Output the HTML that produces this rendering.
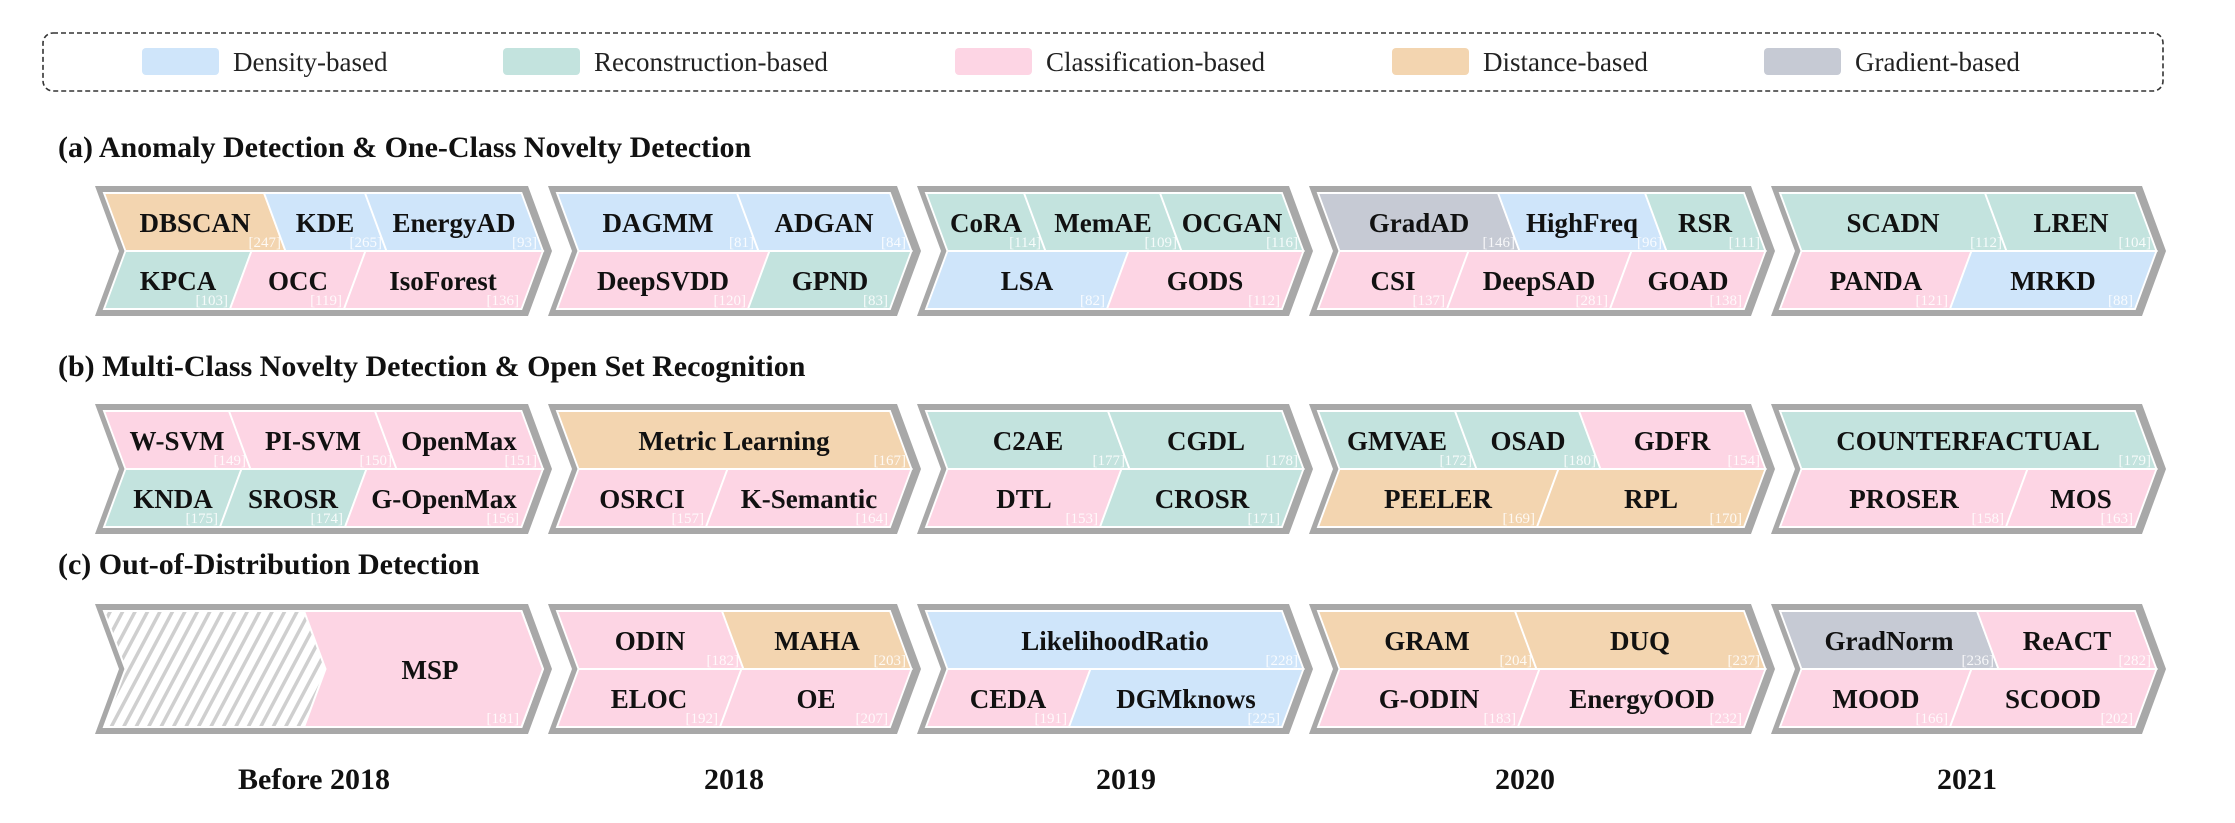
<!DOCTYPE html>
<html><head><meta charset="utf-8"><style>
html,body{margin:0;padding:0;background:#fff;}
svg{display:block;}
.l{font-family:"Liberation Serif",serif;font-weight:bold;font-size:27px;fill:#111;text-anchor:middle;}
.r{font-family:"Liberation Serif",serif;font-size:15px;fill:#fff;fill-opacity:.85;text-anchor:end;}
.t{font-family:"Liberation Serif",serif;font-weight:bold;font-size:30px;fill:#111;}
.y{font-family:"Liberation Serif",serif;font-weight:bold;font-size:30px;fill:#111;text-anchor:middle;}
.g{font-family:"Liberation Serif",serif;font-size:27px;fill:#222;}
.c rect{stroke:#fff;stroke-width:2;}
.B{fill:#cfe5fa}.G{fill:#c3e3de}.P{fill:#fdd5e4}.O{fill:#f3d5b0}.Y{fill:#c6cad4}
.o{fill:#a8a8a8}
</style></head><body>
<svg width="2235" height="823" viewBox="0 0 2235 823" xmlns="http://www.w3.org/2000/svg">
<defs>
<pattern id="h" patternUnits="userSpaceOnUse" width="11" height="11" patternTransform="rotate(28)">
<rect width="11" height="11" fill="#fff"/><rect x="0" y="0" width="3.5" height="11" fill="#cfcfcf"/>
</pattern>
</defs>
<!-- legend -->
<rect x="43" y="33" width="2120" height="58" rx="10" fill="none" stroke="#333" stroke-width="1.6" stroke-dasharray="5,3"/>
<rect x="142" y="48" width="77" height="27" rx="4" class="B"/><text x="233" y="71" class="g">Density-based</text>
<rect x="503" y="48" width="77" height="27" rx="4" class="G"/><text x="594" y="71" class="g">Reconstruction-based</text>
<rect x="955" y="48" width="77" height="27" rx="4" class="P"/><text x="1046" y="71" class="g">Classification-based</text>
<rect x="1392" y="48" width="77" height="27" rx="4" class="O"/><text x="1483" y="71" class="g">Distance-based</text>
<rect x="1764" y="48" width="77" height="27" rx="4" class="Y"/><text x="1855" y="71" class="g">Gradient-based</text>

<text x="58" y="157" class="t">(a) Anomaly Detection &amp; One-Class Novelty Detection</text>
<text x="58" y="376" class="t">(b) Multi-Class Novelty Detection &amp; Open Set Recognition</text>
<text x="58" y="574" class="t">(c) Out-of-Distribution Detection</text>

<!-- ROW A outer -->
<polygon class="o" points="95,186 528,186 552,251 528,316 95,316 119,251"/>
<polygon class="o" points="548,186 897,186 921,251 897,316 548,316 572,251"/>
<polygon class="o" points="917,186 1289,186 1313,251 1289,316 917,316 941,251"/>
<polygon class="o" points="1309,186 1751,186 1775,251 1751,316 1309,316 1333,251"/>
<polygon class="o" points="1771,186 2142,186 2166,251 2142,316 1771,316 1795,251"/>
<g class="c" transform="translate(0,193) skewX(20.3)">
<rect class="O" x="104" y="0" width="160" height="58"/><rect class="B" x="264" y="0" width="101" height="58"/><rect class="B" x="365" y="0" width="156.5" height="58"/>
<rect class="B" x="557" y="0" width="180" height="58"/><rect class="B" x="737" y="0" width="153" height="58"/>
<rect class="G" x="926" y="0" width="98" height="58"/><rect class="G" x="1024" y="0" width="136" height="58"/><rect class="G" x="1160" y="0" width="122" height="58"/>
<rect class="Y" x="1318" y="0" width="180" height="58"/><rect class="B" x="1498" y="0" width="147" height="58"/><rect class="G" x="1645" y="0" width="99" height="58"/>
<rect class="G" x="1780" y="0" width="205" height="58"/><rect class="G" x="1985" y="0" width="150" height="58"/>
</g>
<g class="c" transform="translate(0,309) skewX(-20.3)">
<rect class="G" x="104" y="-58" width="126" height="58"/><rect class="P" x="230" y="-58" width="114" height="58"/><rect class="P" x="344" y="-58" width="177.5" height="58"/>
<rect class="P" x="557" y="-58" width="191" height="58"/><rect class="G" x="748" y="-58" width="142" height="58"/>
<rect class="B" x="926" y="-58" width="181" height="58"/><rect class="P" x="1107" y="-58" width="175" height="58"/>
<rect class="P" x="1318" y="-58" width="129" height="58"/><rect class="P" x="1447" y="-58" width="163" height="58"/><rect class="P" x="1610" y="-58" width="134" height="58"/>
<rect class="P" x="1780" y="-58" width="170" height="58"/><rect class="B" x="1950" y="-58" width="185" height="58"/>
</g>
<text class="l" x="195" y="232">DBSCAN</text><text class="l" x="325" y="232">KDE</text><text class="l" x="454" y="232">EnergyAD</text>
<text class="r" x="281" y="247">[247]</text><text class="r" x="382" y="247">[265]</text><text class="r" x="537" y="247">[93]</text>
<text class="l" x="178" y="290">KPCA</text><text class="l" x="298" y="290">OCC</text><text class="l" x="443" y="290">IsoForest</text>
<text class="r" x="228" y="305">[103]</text><text class="r" x="342" y="305">[119]</text><text class="r" x="519" y="305">[136]</text>
<text class="l" x="658" y="232">DAGMM</text><text class="l" x="824" y="232">ADGAN</text>
<text class="r" x="754" y="247">[81]</text><text class="r" x="906" y="247">[84]</text>
<text class="l" x="663" y="290">DeepSVDD</text><text class="l" x="830" y="290">GPND</text>
<text class="r" x="746" y="305">[120]</text><text class="r" x="888" y="305">[83]</text>
<text class="l" x="986" y="232">CoRA</text><text class="l" x="1103" y="232">MemAE</text><text class="l" x="1232" y="232">OCGAN</text>
<text class="r" x="1041" y="247">[114]</text><text class="r" x="1177" y="247">[109]</text><text class="r" x="1298" y="247">[116]</text>
<text class="l" x="1027" y="290">LSA</text><text class="l" x="1205" y="290">GODS</text>
<text class="r" x="1105" y="305">[82]</text><text class="r" x="1280" y="305">[112]</text>
<text class="l" x="1419" y="232">GradAD</text><text class="l" x="1582" y="232">HighFreq</text><text class="l" x="1705" y="232">RSR</text>
<text class="r" x="1515" y="247">[146]</text><text class="r" x="1662" y="247">[96]</text><text class="r" x="1760" y="247">[111]</text>
<text class="l" x="1393" y="290">CSI</text><text class="l" x="1539" y="290">DeepSAD</text><text class="l" x="1688" y="290">GOAD</text>
<text class="r" x="1445" y="305">[137]</text><text class="r" x="1608" y="305">[281]</text><text class="r" x="1742" y="305">[138]</text>
<text class="l" x="1893" y="232">SCADN</text><text class="l" x="2071" y="232">LREN</text>
<text class="r" x="2002" y="247">[112]</text><text class="r" x="2151" y="247">[104]</text>
<text class="l" x="1876" y="290">PANDA</text><text class="l" x="2053" y="290">MRKD</text>
<text class="r" x="1948" y="305">[121]</text><text class="r" x="2133" y="305">[88]</text>

<!-- ROW B -->
<polygon class="o" points="95,404 528,404 552,469 528,534 95,534 119,469"/>
<polygon class="o" points="548,404 897,404 921,469 897,534 548,534 572,469"/>
<polygon class="o" points="917,404 1289,404 1313,469 1289,534 917,534 941,469"/>
<polygon class="o" points="1309,404 1751,404 1775,469 1751,534 1309,534 1333,469"/>
<polygon class="o" points="1771,404 2142,404 2166,469 2142,534 1771,534 1795,469"/>
<g class="c" transform="translate(0,411) skewX(20.3)">
<rect class="P" x="104" y="0" width="125" height="58"/><rect class="P" x="229" y="0" width="146" height="58"/><rect class="P" x="375" y="0" width="146.5" height="58"/>
<rect class="O" x="557" y="0" width="333" height="58"/>
<rect class="G" x="926" y="0" width="182" height="58"/><rect class="G" x="1108" y="0" width="174" height="58"/>
<rect class="G" x="1318" y="0" width="137" height="58"/><rect class="G" x="1455" y="0" width="124" height="58"/><rect class="P" x="1579" y="0" width="165" height="58"/>
<rect class="G" x="1780" y="0" width="355" height="58"/>
</g>
<g class="c" transform="translate(0,527) skewX(-20.3)">
<rect class="G" x="104" y="-58" width="116" height="58"/><rect class="G" x="220" y="-58" width="125" height="58"/><rect class="P" x="345" y="-58" width="176.5" height="58"/>
<rect class="P" x="557" y="-58" width="149" height="58"/><rect class="P" x="706" y="-58" width="184" height="58"/>
<rect class="P" x="926" y="-58" width="174" height="58"/><rect class="G" x="1100" y="-58" width="182" height="58"/>
<rect class="O" x="1318" y="-58" width="219" height="58"/><rect class="O" x="1537" y="-58" width="207" height="58"/>
<rect class="P" x="1780" y="-58" width="226" height="58"/><rect class="P" x="2006" y="-58" width="129" height="58"/>
</g>
<text class="l" x="177" y="450">W-SVM</text><text class="l" x="313" y="450">PI-SVM</text><text class="l" x="459" y="450">OpenMax</text>
<text class="r" x="246" y="465">[149]</text><text class="r" x="392" y="465">[150]</text><text class="r" x="537" y="465">[151]</text>
<text class="l" x="173" y="508">KNDA</text><text class="l" x="293" y="508">SROSR</text><text class="l" x="444" y="508">G-OpenMax</text>
<text class="r" x="218" y="523">[175]</text><text class="r" x="343" y="523">[174]</text><text class="r" x="519" y="523">[156]</text>
<text class="l" x="734" y="450">Metric Learning</text><text class="r" x="906" y="465">[167]</text>
<text class="l" x="642" y="508">OSRCI</text><text class="l" x="809" y="508">K-Semantic</text>
<text class="r" x="704" y="523">[157]</text><text class="r" x="888" y="523">[164]</text>
<text class="l" x="1028" y="450">C2AE</text><text class="l" x="1206" y="450">CGDL</text>
<text class="r" x="1125" y="465">[177]</text><text class="r" x="1298" y="465">[178]</text>
<text class="l" x="1024" y="508">DTL</text><text class="l" x="1202" y="508">CROSR</text>
<text class="r" x="1098" y="523">[153]</text><text class="r" x="1280" y="523">[171]</text>
<text class="l" x="1397" y="450">GMVAE</text><text class="l" x="1528" y="450">OSAD</text><text class="l" x="1672" y="450">GDFR</text>
<text class="r" x="1472" y="465">[172]</text><text class="r" x="1596" y="465">[180]</text><text class="r" x="1760" y="465">[154]</text>
<text class="l" x="1438" y="508">PEELER</text><text class="l" x="1651" y="508">RPL</text>
<text class="r" x="1535" y="523">[169]</text><text class="r" x="1742" y="523">[170]</text>
<text class="l" x="1968" y="450">COUNTERFACTUAL</text><text class="r" x="2151" y="465">[179]</text>
<text class="l" x="1904" y="508">PROSER</text><text class="l" x="2081" y="508">MOS</text>
<text class="r" x="2004" y="523">[158]</text><text class="r" x="2133" y="523">[163]</text>

<!-- ROW C -->
<g transform="translate(0,-5)">
<polygon class="o" points="95,609 528,609 552,674 528,739 95,739 119,674"/>
<polygon class="o" points="548,609 897,609 921,674 897,739 548,739 572,674"/>
<polygon class="o" points="917,609 1289,609 1313,674 1289,739 917,739 941,674"/>
<polygon class="o" points="1309,609 1751,609 1775,674 1751,739 1309,739 1333,674"/>
<polygon class="o" points="1771,609 2142,609 2166,674 2142,739 1771,739 1795,674"/>
<polygon points="104,616 521.5,616 543,674 521.5,732 104,732 125.5,674" fill="url(#h)" stroke="#fff" stroke-width="2"/>
<polygon class="P" points="304,616 521.5,616 543,674 521.5,732 304,732 325.5,674" stroke="#fff" stroke-width="2"/>
<g class="c" transform="translate(0,616) skewX(20.3)">
<rect class="P" x="557" y="0" width="165" height="58"/><rect class="O" x="722" y="0" width="168" height="58"/>
<rect class="B" x="926" y="0" width="356" height="58"/>
<rect class="O" x="1318" y="0" width="197" height="58"/><rect class="O" x="1515" y="0" width="229" height="58"/>
<rect class="Y" x="1780" y="0" width="197" height="58"/><rect class="P" x="1977" y="0" width="158" height="58"/>
</g>
<g class="c" transform="translate(0,732) skewX(-20.3)">
<rect class="P" x="557" y="-58" width="163" height="58"/><rect class="P" x="720" y="-58" width="170" height="58"/>
<rect class="P" x="926" y="-58" width="143" height="58"/><rect class="B" x="1069" y="-58" width="213" height="58"/>
<rect class="P" x="1318" y="-58" width="200" height="58"/><rect class="P" x="1518" y="-58" width="226" height="58"/>
<rect class="P" x="1780" y="-58" width="170" height="58"/><rect class="P" x="1950" y="-58" width="185" height="58"/>
</g>
<text class="l" x="430" y="684">MSP</text><text class="r" x="519" y="728">[181]</text>
<text class="l" x="650" y="655">ODIN</text><text class="l" x="817" y="655">MAHA</text>
<text class="r" x="739" y="670">[182]</text><text class="r" x="906" y="670">[203]</text>
<text class="l" x="649" y="713">ELOC</text><text class="l" x="816" y="713">OE</text>
<text class="r" x="718" y="728">[192]</text><text class="r" x="888" y="728">[207]</text>
<text class="l" x="1115" y="655">LikelihoodRatio</text><text class="r" x="1298" y="670">[228]</text>
<text class="l" x="1008" y="713">CEDA</text><text class="l" x="1186" y="713">DGMknows</text>
<text class="r" x="1067" y="728">[191]</text><text class="r" x="1280" y="728">[225]</text>
<text class="l" x="1427" y="655">GRAM</text><text class="l" x="1640" y="655">DUQ</text>
<text class="r" x="1532" y="670">[204]</text><text class="r" x="1760" y="670">[237]</text>
<text class="l" x="1429" y="713">G-ODIN</text><text class="l" x="1642" y="713">EnergyOOD</text>
<text class="r" x="1516" y="728">[183]</text><text class="r" x="1742" y="728">[232]</text>
<text class="l" x="1889" y="655">GradNorm</text><text class="l" x="2067" y="655">ReACT</text>
<text class="r" x="1994" y="670">[236]</text><text class="r" x="2151" y="670">[282]</text>
<text class="l" x="1876" y="713">MOOD</text><text class="l" x="2053" y="713">SCOOD</text>
<text class="r" x="1948" y="728">[166]</text><text class="r" x="2133" y="728">[202]</text>
</g>

<!-- years -->
<text class="y" x="314" y="789">Before 2018</text>
<text class="y" x="734" y="789">2018</text>
<text class="y" x="1126" y="789">2019</text>
<text class="y" x="1525" y="789">2020</text>
<text class="y" x="1967" y="789">2021</text>
</svg>
</body></html>
